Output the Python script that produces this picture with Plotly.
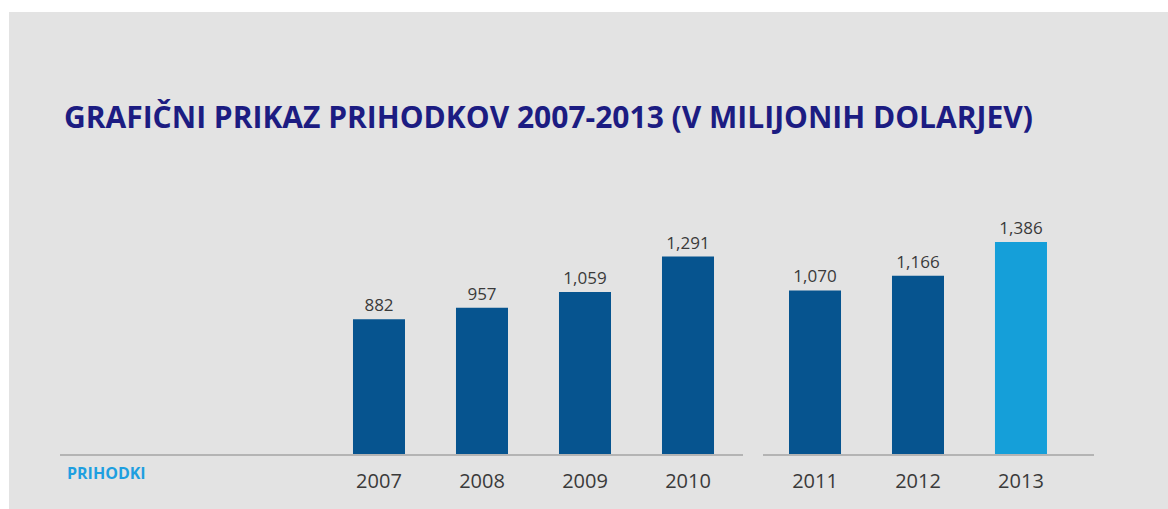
import plotly.graph_objects as go

# Revenue in millions of USD
years_a = ["2007", "2008", "2009", "2010"]
revenue_a = [882, 957, 1059, 1291]
years_b = ["2011", "2012", "2013"]
revenue_b = [1070, 1166, 1386]

title_text = "GRAFIČNI PRIKAZ PRIHODKOV 2007-2013 (V MILIJONIH DOLARJEV)"
row_label = "PRIHODKI"

DARK = "#06548f"
LIGHT = "#159fd9"
W, H = 1168, 509


def fmt(v):
    return f"{v:,}"


label_font = dict(family="Open Sans", size=17, color="#3a3a3a")

fig = go.Figure()
fig.add_trace(go.Bar(
    x=years_a, y=revenue_a, xaxis="x", yaxis="y",
    marker=dict(color=DARK, line=dict(width=0)), width=0.505,
    text=[fmt(v) for v in revenue_a], textposition="outside",
    textfont=label_font, cliponaxis=False, showlegend=False,
))
fig.add_trace(go.Bar(
    x=years_b, y=revenue_b, xaxis="x2", yaxis="y2",
    marker=dict(color=[DARK, DARK, LIGHT], line=dict(width=0)), width=0.505,
    text=[fmt(v) for v in revenue_b], textposition="outside",
    textfont=label_font, cliponaxis=False, showlegend=False,
))

base = (H - 454) / H
ytop = 454 / 0.1529
tickfont = dict(family="Open Sans", size=20, color="#3a3a3a")
common_x = dict(type="category", showgrid=False, zeroline=False, showline=True,
                linecolor="#b4b4b4", linewidth=2, ticks="", tickfont=tickfont,
                ticklabelstandoff=8, fixedrange=True)
common_y = dict(range=[0, ytop], domain=[base, 1], visible=False, fixedrange=True)

fig.update_layout(
    width=W, height=H,
    margin=dict(l=0, r=0, t=0, b=0),
    paper_bgcolor="white",
    plot_bgcolor="rgba(0,0,0,0)",
    bargap=0.5,
    xaxis=dict(common_x, domain=[60 / W, 743 / W], range=[-3.097, 3.534], anchor="y"),
    xaxis2=dict(common_x, domain=[763 / W, 1094 / W], range=[-0.505, 2.709], anchor="y2"),
    yaxis=dict(common_y, anchor="x"),
    yaxis2=dict(common_y, anchor="x2"),
    shapes=[dict(type="rect", xref="paper", yref="paper", x0=9 / W, x1=1,
                 y0=0, y1=(H - 12) / H, fillcolor="#e3e3e3", line=dict(width=0),
                 layer="below")],
    annotations=[
        dict(text=f"<b>{title_text}</b>", xref="paper", yref="paper",
             x=62 / W, y=(H - 117) / H, xanchor="left", yanchor="middle",
             showarrow=False, font=dict(family="Open Sans", size=30, color="#1c1c82")),
        dict(text=f"<b>{row_label}</b>", xref="paper", yref="paper",
             x=65 / W, y=(H - 473) / H, xanchor="left", yanchor="middle",
             showarrow=False, font=dict(family="Open Sans", size=16, color="#1e9fe0")),
    ],
)

fig.write_html("out.html")
